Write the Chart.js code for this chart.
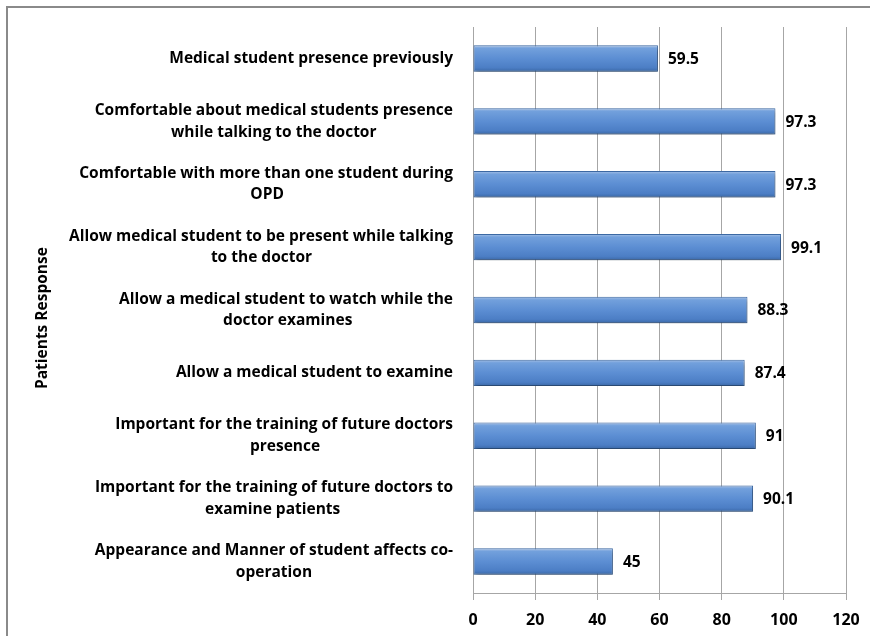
<!DOCTYPE html>
<html>
<head>
<meta charset="utf-8">
<script src="https://cdn.jsdelivr.net/npm/chart.js@4/dist/chart.umd.min.js"></script>
<style>
  html, body { margin: 0; padding: 0; background: #fff; overflow: hidden; }
  #wrap { position: relative; width: 870px; height: 636px; }
  #frame { position: absolute; left: 6px; top: 6px; width: 900px; height: 700px;
           border-top: 2px solid #8a8a8a; border-left: 2px solid #8a8a8a; pointer-events: none; }
  canvas { position: absolute; left: 0; top: 0; }
</style>
</head>
<body>
<div id="wrap">
  <canvas id="c" width="870" height="636"></canvas>
  <div id="frame"></div>
</div>
<script>
const categories = [
  ["Medical student presence previously"],
  ["Comfortable about medical students presence", "while talking to the doctor"],
  ["Comfortable with more than one student during", "OPD"],
  ["Allow medical student to be present while talking", "to the doctor"],
  ["Allow a medical student to watch while the", "doctor examines"],
  ["Allow a medical student to examine"],
  ["Important for the training of future doctors", "presence"],
  ["Important for the training of future doctors to", "examine patients"],
  ["Appearance and Manner of student affects co-", "operation"]
];
const values = [59.5, 97.3, 97.3, 99.1, 88.3, 87.4, 91, 90.1, 45];
const valueLabels = ["59.5", "97.3", "97.3", "99.1", "88.3", "87.4", "91", "90.1", "45"];
const xTicks = [0, 20, 40, 60, 80, 100, 120];
const axisTitle = "Patients Response";

const FONT_FAMILY = "'Open Sans', Lato, sans-serif";
const LABEL_SIZE = 15.5;
const measureCtx = document.createElement('canvas').getContext('2d');
measureCtx.font = "bold " + LABEL_SIZE + "px " + FONT_FAMILY;

// centre the continuation line under the first line (block is right-aligned)
function centredLines(lines) {
  if (lines.length < 2) return lines[0];
  const w1 = measureCtx.measureText(lines[0]).width;
  const out = [lines[0]];
  const sp = measureCtx.measureText(' ').width;
  for (let i = 1; i < lines.length; i++) {
    const w = measureCtx.measureText(lines[i]).width;
    const n = Math.max(0, Math.round((w1 - w) / 2 / sp));
    out.push(lines[i] + ' '.repeat(n));
  }
  return out;
}

const bevelPlugin = {
  id: 'bevel',
  beforeDatasetsDraw(chart) {
    const ctx = chart.ctx;
    chart.getDatasetMeta(0).data.forEach(el => {
      const h = el.height;
      const g = ctx.createLinearGradient(0, el.y - h / 2, 0, el.y + h / 2);
      g.addColorStop(0, '#a9c2e6');
      g.addColorStop(0.12, '#72a0dc');
      g.addColorStop(0.5, '#5c8ed3');
      g.addColorStop(0.85, '#4c7ec5');
      g.addColorStop(1, '#3a68a6');
      el.options = Object.assign({}, el.options, { backgroundColor: g });
    });
    ctx.save();
    ctx.shadowColor = 'rgba(0,0,0,0.35)';
    ctx.shadowOffsetX = 1;
    ctx.shadowOffsetY = 3;
    ctx.shadowBlur = 4;
  },
  afterDatasetsDraw(chart) {
    const ctx = chart.ctx;
    ctx.restore();
    ctx.save();
    ctx.font = "bold " + LABEL_SIZE + "px " + FONT_FAMILY;
    ctx.fillStyle = '#000';
    ctx.textAlign = 'left';
    ctx.textBaseline = 'middle';
    chart.getDatasetMeta(0).data.forEach((el, i) => {
      ctx.fillText(valueLabels[i], el.x + 10, el.y + 1);
    });
    ctx.restore();
  }
};

new Chart(document.getElementById('c'), {
  type: 'bar',
  data: {
    labels: categories.map(centredLines),
    datasets: [{
      data: values,
      backgroundColor: '#5a8bd0',
      borderColor: '#3d6aa5',
      borderWidth: 1,
      borderSkipped: false,
      barPercentage: 0.42,
      categoryPercentage: 1.0
    }]
  },
  options: {
    indexAxis: 'y',
    responsive: false,
    animation: false,
    devicePixelRatio: 1,
    layout: { padding: { left: 8, top: 27, right: 24, bottom: 0 } },
    plugins: { legend: { display: false }, tooltip: { enabled: false } },
    scales: {
      x: {
        min: 0, max: 120,
        afterBuildTicks(scale) { scale.ticks = xTicks.map(v => ({ value: v })); },
        afterFit(scale) { scale.height = 43; scale.paddingLeft = 0; scale.paddingRight = 0; },
        grid: { color: '#a6a6a6', lineWidth: 1, drawTicks: true, tickLength: 7, tickColor: '#a6a6a6' },
        border: { color: '#a6a6a6' },
        ticks: { color: '#000', padding: 11, font: { family: FONT_FAMILY, size: 16, weight: 'bold' } }
      },
      y: {
        afterFit(scale) { scale.width = 465; scale.paddingTop = 0; scale.paddingBottom = 0; },
        grid: { display: false, drawTicks: false },
        border: { display: true, color: '#a6a6a6' },
        ticks: { color: '#000', padding: 20, crossAlign: 'near',
                 font: { family: FONT_FAMILY, size: LABEL_SIZE, weight: 'bold', lineHeight: 1.4 } },
        title: { display: true, text: axisTitle + '    ', color: '#000',
                 padding: { top: 25, bottom: 0 },
                 font: { family: FONT_FAMILY, size: 15.5, weight: 'bold' } }
      }
    }
  },
  plugins: [bevelPlugin]
});
</script>
</body>
</html>
